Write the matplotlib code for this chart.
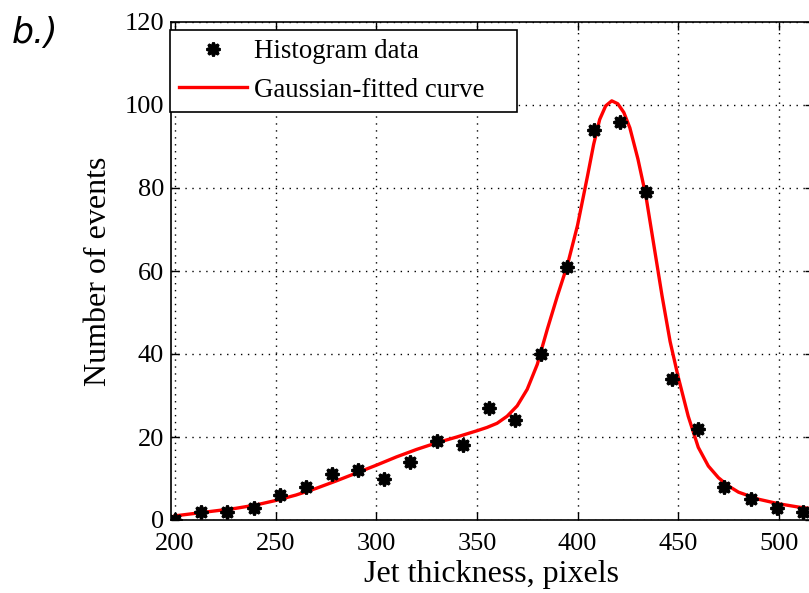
import numpy as np
import matplotlib
matplotlib.use("Agg")
import matplotlib.pyplot as plt

# histogram points
hist_x = [200, 213, 226, 239, 252, 265, 278, 291, 304, 317, 330, 343, 356,
          369, 382, 395, 408, 421, 434, 447, 460, 473, 486, 499, 512]
hist_y = [0, 2, 2, 3, 6, 8, 11, 12, 10, 14, 19, 18, 27,
          24, 40, 61, 94, 96, 79, 34, 22, 8, 5, 3, 2]

# fitted curve
fit_x = [200, 210, 220, 230, 240, 250, 260, 270, 280, 290, 300, 310, 320,
         330, 340, 350, 355, 360, 365, 370, 375, 380, 385, 390, 395, 400,
         405, 408, 411, 414, 417, 420, 423, 426, 430, 434, 438, 442, 446,
         450, 455, 460, 465, 470, 475, 480, 490, 500, 510, 517]
fit_y = [1.0, 1.6, 2.2, 2.8, 3.6, 4.7, 6.0, 7.6, 9.4, 11.3, 13.2, 15.2, 17.0,
         18.6, 20.0, 21.5, 22.3, 23.3, 25.0, 27.5, 31.5, 37.5, 46, 54, 61.5, 71,
         83, 90.5, 96.5, 99.8, 101, 100.3, 98.2, 94.5, 87, 78, 66, 54, 43,
         34.5, 25, 17.5, 13, 10.2, 8.2, 6.7, 5.0, 3.9, 3.1, 2.7]

plt.rcParams['font.family'] = ['Liberation Serif', 'DejaVu Serif']

fig = plt.figure(figsize=(8.09, 5.93), dpi=100)
W, H = 809, 593
ax = fig.add_axes([171 / W, (H - 520) / H, (813 - 171) / W, (520 - 22) / H])

ax.plot(hist_x, hist_y, linestyle='none', marker=(8, 1, 0), markersize=10,
        color='black', markeredgewidth=2, label='Histogram data', zorder=4)
ax.plot(fit_x, fit_y, color='#ff0000', linewidth=2.4,
        label='Gaussian-fitted curve', zorder=3)

ax.set_xlim(198, 517)
ax.set_ylim(0, 120)
ax.set_xticks([200, 250, 300, 350, 400, 450, 500])
ax.set_yticks([0, 20, 40, 60, 80, 100, 120])
ax.grid(True, linestyle=(0, (1, 4)), color='black', linewidth=1.0)
ax.tick_params(direction='in', length=6, width=1, top=True, right=True,
               labelsize=19)
ax.tick_params(axis='x', pad=9)
ax.tick_params(axis='y', pad=5)
for s in ax.spines.values():
    s.set_linewidth(1.2)

ax.set_xlabel('Jet thickness, pixels', fontsize=23, labelpad=4)
ax.set_ylabel('Number of events', fontsize=23, labelpad=8.5)

# legend box spans x 170..517, y 30..108 px in the reference
leg = ax.legend(loc='upper left',
                bbox_to_anchor=(170 / W, 1 - 108 / H, 347 / W, 78 / H),
                bbox_transform=fig.transFigure, mode='expand',
                fontsize=19.4, frameon=True,
                fancybox=False, edgecolor='black', framealpha=1,
                borderpad=0.35, handlelength=2.5, handletextpad=0.25,
                labelspacing=0.5, borderaxespad=0)
leg.get_frame().set_linewidth(1.2)

fig.text(12 / W, 1 - 43 / H, 'b.)', fontsize=25, style='italic',
         family='DejaVu Sans')

fig.savefig('out.png', dpi=100)
